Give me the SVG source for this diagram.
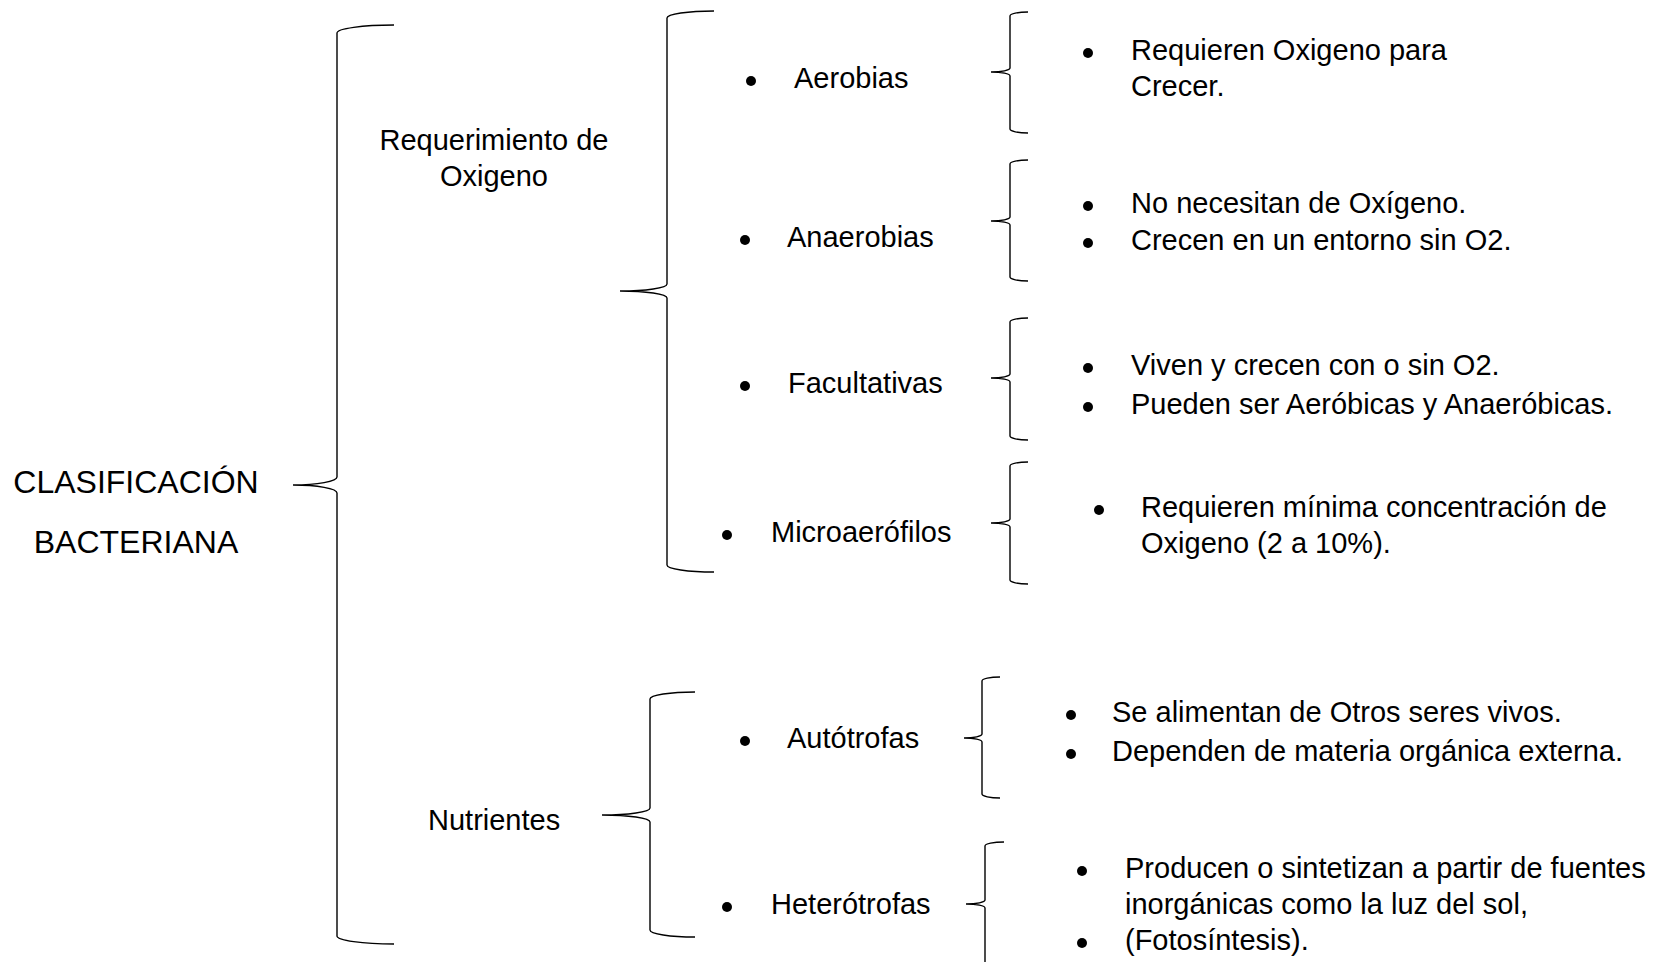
<svg xmlns="http://www.w3.org/2000/svg" width="1657" height="962" viewBox="0 0 1657 962">
<style>
.t{font-family:"Liberation Sans",Arial,sans-serif;font-size:29px;fill:#000}
.big{font-size:32px}
.br{fill:none;stroke:#000;stroke-width:1.4}
.b{fill:#000}
</style>
<rect width="1657" height="962" fill="#fff"/>
<g id="connectors">
<path class="br" d="M394,25 A57,8 0 0 0 337,33 L337,477 A44,8 0 0 1 293,485 A44,8 0 0 1 337,493 L337,936 A57,8 0 0 0 394,944"/>
<path class="br" d="M714,11 A47,7 0 0 0 667,18 L667,284 A47,7 0 0 1 620,291 A47,7 0 0 1 667,298 L667,565 A47,7 0 0 0 714,572"/>
<path class="br" d="M695,692 A45,7 0 0 0 650,699 L650,808 A48,7 0 0 1 602,815 A48,7 0 0 1 650,822 L650,930 A45,7 0 0 0 695,937"/>
<path class="br" d="M1028,12 A18,4 0 0 0 1010,16 L1010,68 A19,4 0 0 1 991,72 A19,4 0 0 1 1010,76 L1010,129 A18,4 0 0 0 1028,133"/>
<path class="br" d="M1028,160 A18,4 0 0 0 1010,164 L1010,217 A19,4 0 0 1 991,221 A19,4 0 0 1 1010,225 L1010,277 A18,4 0 0 0 1028,281"/>
<path class="br" d="M1028,318 A18,4 0 0 0 1010,322 L1010,374 A19,4 0 0 1 991,378 A19,4 0 0 1 1010,382 L1010,436 A18,4 0 0 0 1028,440"/>
<path class="br" d="M1028,462 A18,4 0 0 0 1010,466 L1010,519 A19,4 0 0 1 991,523 A19,4 0 0 1 1010,527 L1010,580 A18,4 0 0 0 1028,584"/>
<path class="br" d="M1000,677 A18,4 0 0 0 982,681 L982,734 A18,4 0 0 1 964,738 A18,4 0 0 1 982,742 L982,794 A18,4 0 0 0 1000,798"/>
<path class="br" d="M1004,842 A19,4 0 0 0 985,846 L985,900 A19,4 0 0 1 966,904 A19,4 0 0 1 985,908 L985,966"/>
</g>
<g id="root">
<text class="t big" x="136" y="493" text-anchor="middle">CLASIFICACIÓN</text>
<text class="t big" x="136" y="553" text-anchor="middle">BACTERIANA</text>
</g>
<g id="oxigeno">
<text class="t" x="494" y="150" text-anchor="middle">Requerimiento de</text>
<text class="t" x="494" y="186" text-anchor="middle">Oxigeno</text>
</g>
<g id="nutrientes">
<text class="t" x="428" y="830">Nutrientes</text>
</g>
<g id="aerobias">
<circle class="b" cx="751" cy="81" r="5"/>
<text class="t" x="794" y="88">Aerobias</text>
</g>
<g id="anaerobias">
<circle class="b" cx="745" cy="240" r="5"/>
<text class="t" x="787" y="247">Anaerobias</text>
</g>
<g id="facultativas">
<circle class="b" cx="745" cy="386" r="5"/>
<text class="t" x="788" y="393">Facultativas</text>
</g>
<g id="microaerofilos">
<circle class="b" cx="727" cy="535" r="5"/>
<text class="t" x="771" y="542">Microaerófilos</text>
</g>
<g id="autotrofas">
<circle class="b" cx="745" cy="741" r="5"/>
<text class="t" x="787" y="748">Autótrofas</text>
</g>
<g id="heterotrofas">
<circle class="b" cx="727" cy="907" r="5"/>
<text class="t" x="771" y="914">Heterótrofas</text>
</g>
<g id="aerobias-desc">
<circle class="b" cx="1088" cy="53" r="5"/>
<text class="t" x="1131" y="60">Requieren Oxigeno para</text>
<text class="t" x="1131" y="96">Crecer.</text>
</g>
<g id="anaerobias-desc">
<circle class="b" cx="1088" cy="206" r="5"/>
<text class="t" x="1131" y="213">No necesitan de Oxígeno.</text>
<circle class="b" cx="1088" cy="243" r="5"/>
<text class="t" x="1131" y="250">Crecen en un entorno sin O2.</text>
</g>
<g id="facultativas-desc">
<circle class="b" cx="1088" cy="368" r="5"/>
<text class="t" x="1131" y="375">Viven y crecen con o sin O2.</text>
<circle class="b" cx="1088" cy="407" r="5"/>
<text class="t" x="1131" y="414">Pueden ser Aeróbicas y Anaeróbicas.</text>
</g>
<g id="microaerofilos-desc">
<circle class="b" cx="1099" cy="510" r="5"/>
<text class="t" x="1141" y="517">Requieren mínima concentración de</text>
<text class="t" x="1141" y="553">Oxigeno (2 a 10%).</text>
</g>
<g id="autotrofas-desc">
<circle class="b" cx="1071" cy="715" r="5"/>
<text class="t" x="1112" y="722">Se alimentan de Otros seres vivos.</text>
<circle class="b" cx="1071" cy="754" r="5"/>
<text class="t" x="1112" y="761">Dependen de materia orgánica externa.</text>
</g>
<g id="heterotrofas-desc">
<circle class="b" cx="1082" cy="871" r="5"/>
<text class="t" x="1125" y="878">Producen o sintetizan a partir de fuentes</text>
<text class="t" x="1125" y="914">inorgánicas como la luz del sol,</text>
<circle class="b" cx="1082" cy="943" r="5"/>
<text class="t" x="1125" y="950">(Fotosíntesis).</text>
</g>
</svg>
